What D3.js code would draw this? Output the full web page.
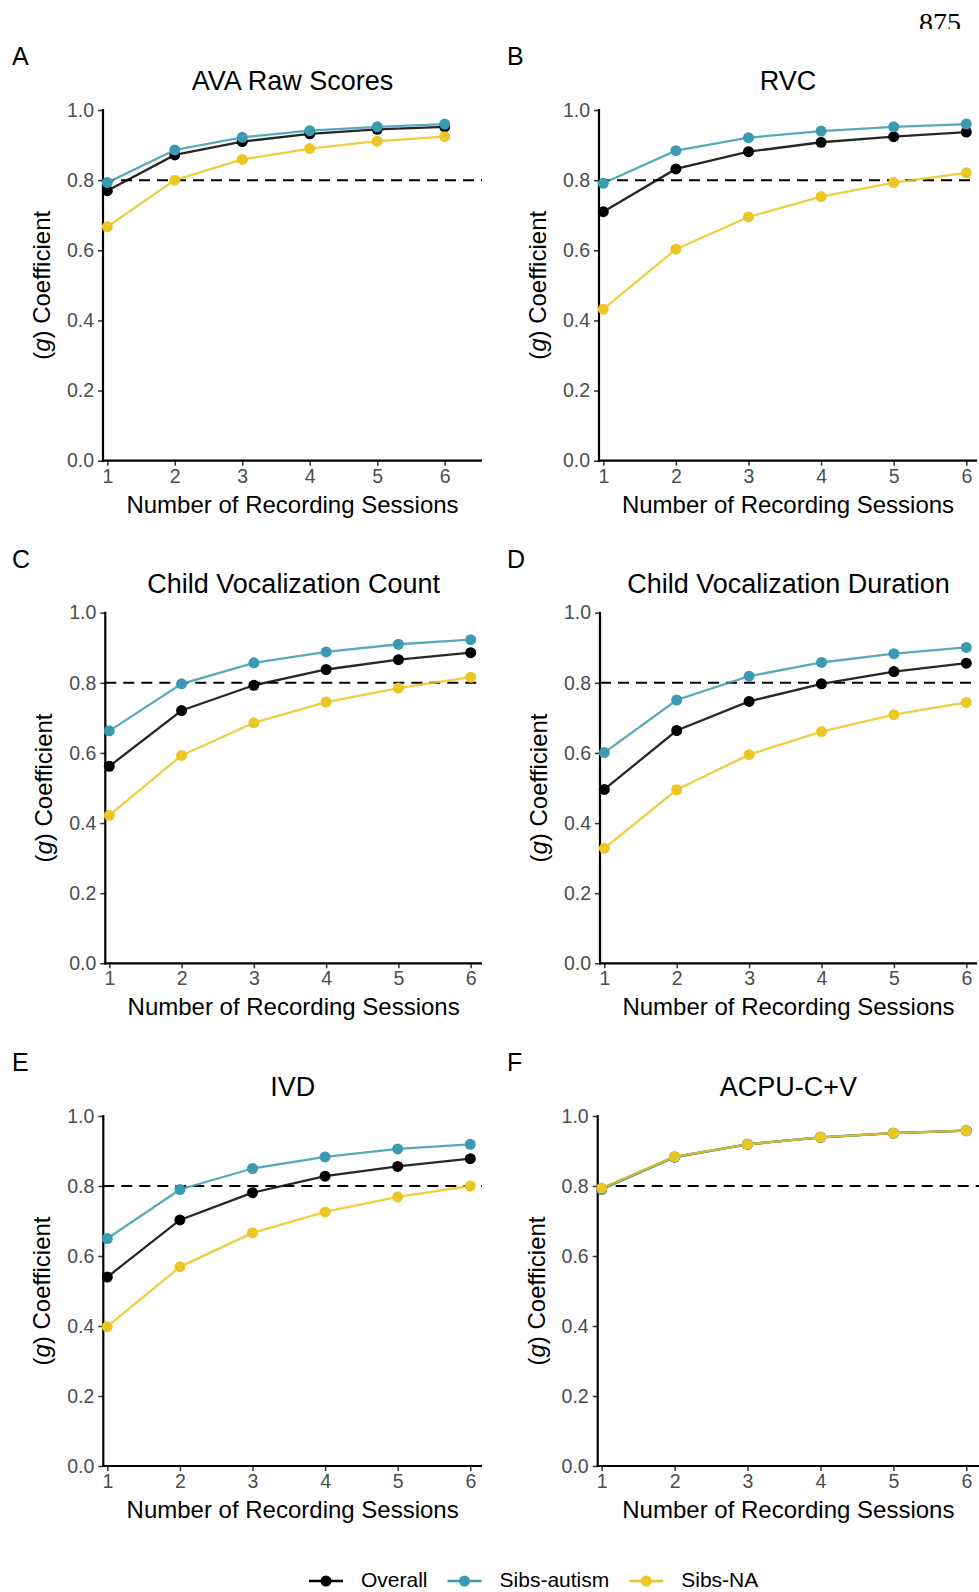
<!DOCTYPE html>
<html>
<head>
<meta charset="utf-8">
<script src="https://cdn.jsdelivr.net/npm/d3@7"></script>
<style>
  body { margin: 0; background: #fff; }
  svg { display: block; font-family: "Liberation Sans", Arial, sans-serif; }
</style>
</head>
<body>
<div id="chart"></div>
<script>
// x values and y ticks
var sessions = [1, 2, 3, 4, 5, 6];
var yTicks = [0, 0.2, 0.4, 0.6, 0.8, 1.0];
var threshold = 0.8;

var letters = ['A', 'B', 'C', 'D', 'E', 'F'];
var titles = ['AVA Raw Scores', 'RVC', 'Child Vocalization Count',
  'Child Vocalization Duration', 'IVD', 'ACPU-C+V'];

var groups = ['Overall', 'Sibs-autism', 'Sibs-NA'];
var colors = ['#000000', '#3B9AB2', '#EBC625'];

// g coefficients, one row per panel (A..F)
var overall = [
  [0.770, 0.872, 0.910, 0.932, 0.945, 0.952],
  [0.710, 0.832, 0.881, 0.908, 0.924, 0.937],
  [0.562, 0.721, 0.793, 0.838, 0.866, 0.886],
  [0.496, 0.664, 0.747, 0.797, 0.832, 0.856],
  [0.540, 0.703, 0.781, 0.828, 0.856, 0.878],
  [0.792, 0.883, 0.919, 0.939, 0.951, 0.958]
];
var sibsAutism = [
  [0.793, 0.886, 0.922, 0.941, 0.952, 0.960],
  [0.791, 0.884, 0.921, 0.940, 0.952, 0.960],
  [0.663, 0.797, 0.857, 0.888, 0.910, 0.923],
  [0.601, 0.751, 0.819, 0.858, 0.883, 0.901],
  [0.650, 0.790, 0.850, 0.883, 0.906, 0.919],
  [0.790, 0.882, 0.919, 0.939, 0.951, 0.958]
];
var sibsNA = [
  [0.667, 0.800, 0.859, 0.890, 0.911, 0.924],
  [0.432, 0.603, 0.695, 0.753, 0.793, 0.821],
  [0.422, 0.593, 0.686, 0.745, 0.785, 0.816],
  [0.328, 0.495, 0.595, 0.661, 0.709, 0.744],
  [0.398, 0.569, 0.666, 0.726, 0.769, 0.800],
  [0.794, 0.884, 0.919, 0.939, 0.951, 0.958]
];
var series = [overall, sibsAutism, sibsNA];

// panel geometry: axis left/right, x of first/last session, top/bottom of y range
var boxes = [
  {left: 103, right: 482, x0: 107.3, x1: 444.7, top: 110, bottom: 460.7, lx: 12},
  {left: 599, right: 977, x0: 603.3, x1: 966.3, top: 110, bottom: 460.7, lx: 507},
  {left: 105.3, right: 482, x0: 109.3, x1: 470.7, top: 612.7, bottom: 963.3, lx: 12},
  {left: 600, right: 977, x0: 604.3, x1: 966.3, top: 612.7, bottom: 963.3, lx: 507},
  {left: 103.3, right: 482, x0: 107.3, x1: 470.3, top: 1116, bottom: 1466, lx: 12},
  {left: 597.7, right: 979, x0: 601.7, x1: 966.3, top: 1116, bottom: 1466, lx: 507}
];

var width = 979
  , height = 1592;

var svg = d3.select('#chart').append('svg')
  .attr('width', width)
  .attr('height', height);

// page number, cropped at the top of the scan
svg.append('clipPath').attr('id', 'pageclip')
  .append('rect').attr('x', 0).attr('y', 0).attr('width', width).attr('height', 29);
svg.append('text')
  .attr('clip-path', 'url(#pageclip)')
  .attr('x', 940).attr('y', 32)
  .attr('text-anchor', 'middle')
  .style('font-family', '"Liberation Serif", "Times New Roman", serif')
  .style('font-size', '28px')
  .text('875');

boxes.forEach(function(b, p) {
  var x = d3.scaleLinear().domain([1, 6]).range([b.x0, b.x1])
    , y = d3.scaleLinear().domain([0, 1]).range([b.bottom, b.top])
    , g = svg.append('g');

  g.append('text')
    .attr('x', b.lx).attr('y', b.top - 45)
    .style('font-size', '25px')
    .text(letters[p]);

  g.append('text')
    .attr('x', (b.left + b.right) / 2).attr('y', b.top - 20)
    .attr('text-anchor', 'middle')
    .style('font-size', '27px')
    .text(titles[p]);

  // y axis
  var ya = g.append('g')
    .attr('transform', 'translate(' + b.left + ',0)')
    .call(d3.axisLeft(y).tickValues(yTicks).tickFormat(d3.format('.1f')).tickSize(5).tickPadding(4));
  ya.select('.domain').remove();
  ya.selectAll('.tick line').attr('stroke', '#333').attr('stroke-width', 1.5);
  ya.selectAll('.tick text').attr('fill', '#4d4d4d').style('font-size', '19.5px')
    .style('font-family', '"Liberation Sans", Arial, sans-serif');

  // x axis
  var xa = g.append('g')
    .attr('transform', 'translate(0,' + b.bottom + ')')
    .call(d3.axisBottom(x).tickValues(sessions).tickFormat(d3.format('d')).tickSize(5).tickPadding(3));
  xa.select('.domain').remove();
  xa.selectAll('.tick line').attr('stroke', '#333').attr('stroke-width', 1.5);
  xa.selectAll('.tick text').attr('fill', '#4d4d4d').style('font-size', '19.5px')
    .style('font-family', '"Liberation Sans", Arial, sans-serif');

  g.append('line')
    .attr('x1', b.left).attr('x2', b.left)
    .attr('y1', b.top - 1).attr('y2', b.bottom + 1)
    .attr('stroke', '#000').attr('stroke-width', 2.2);
  g.append('line')
    .attr('x1', b.left - 1).attr('x2', b.right)
    .attr('y1', b.bottom).attr('y2', b.bottom)
    .attr('stroke', '#000').attr('stroke-width', 2.2);

  g.append('text')
    .attr('x', (b.left + b.right) / 2).attr('y', b.bottom + 52)
    .attr('text-anchor', 'middle')
    .style('font-size', '24px')
    .text('Number of Recording Sessions');

  var yt = g.append('text')
    .attr('transform', 'translate(' + (b.left - 53) + ',' + ((b.top + b.bottom) / 2) + ') rotate(-90)')
    .attr('text-anchor', 'middle')
    .style('font-size', '24px');
  yt.append('tspan').text('(');
  yt.append('tspan').style('font-style', 'italic').text('g');
  yt.append('tspan').text(') Coefficient');

  // 0.8 reference line
  g.append('line')
    .attr('x1', b.left).attr('x2', b.right)
    .attr('y1', y(threshold)).attr('y2', y(threshold))
    .attr('stroke', '#000').attr('stroke-width', 2)
    .attr('stroke-dasharray', '11,7');

  var line = d3.line()
    .x(function(d, i) { return x(sessions[i]); })
    .y(function(d) { return y(d); });

  series.forEach(function(s, k) {
    var vals = s[p];
    g.append('path')
      .attr('d', line(vals))
      .attr('fill', 'none')
      .attr('stroke', colors[k])
      .attr('stroke-width', 2.3)
      .attr('stroke-opacity', 0.85);
    g.selectAll('circle.s' + k)
      .data(vals)
      .enter().append('circle')
      .attr('class', 's' + k)
      .attr('cx', function(d, i) { return x(sessions[i]); })
      .attr('cy', function(d) { return y(d); })
      .attr('r', 5.5)
      .attr('fill', colors[k]);
  });
});

// legend along the bottom
var legend = svg.append('g').attr('transform', 'translate(0,1581)')
  , lx = 309;
groups.forEach(function(name, k) {
  var item = legend.append('g').attr('transform', 'translate(' + lx + ',0)');
  item.append('line')
    .attr('x1', 0).attr('x2', 34)
    .attr('stroke', colors[k]).attr('stroke-width', 2.3);
  item.append('circle').attr('cx', 17).attr('r', 5.5).attr('fill', colors[k]);
  var t = item.append('text')
    .attr('x', 52).attr('y', 6)
    .style('font-size', '21px')
    .text(name);
  lx += 52 + t.node().getComputedTextLength() + 20;
});
</script>
</body>
</html>
